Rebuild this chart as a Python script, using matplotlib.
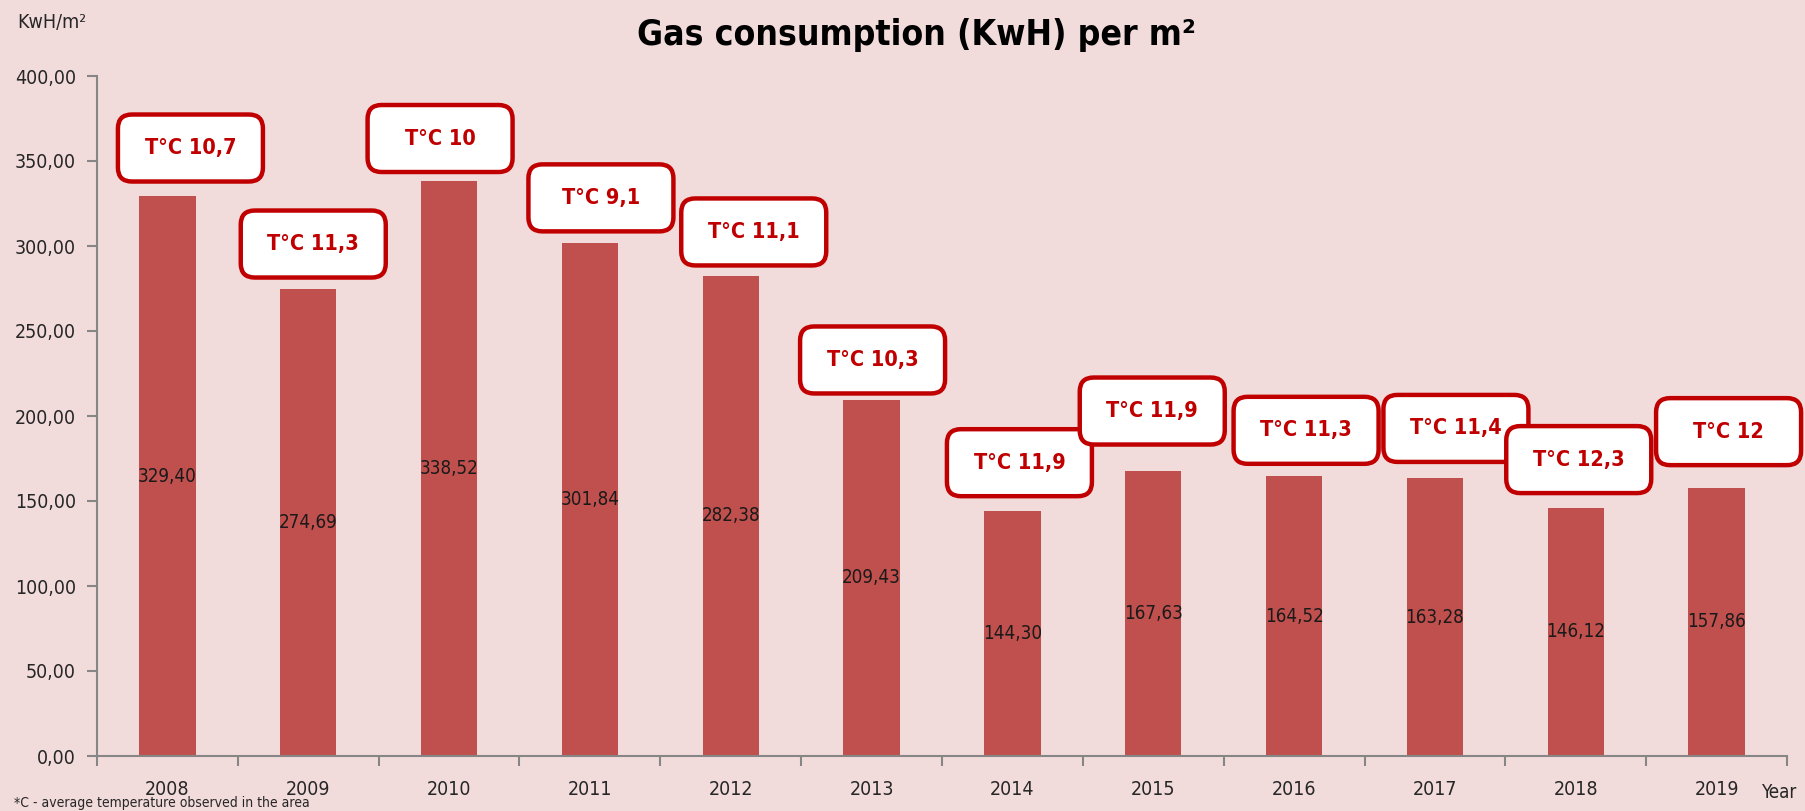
import matplotlib
matplotlib.use("Agg")
import matplotlib.pyplot as plt
from matplotlib.patches import FancyBboxPatch
from matplotlib.transforms import ScaledTranslation, IdentityTransform

# ---- data ----
years = ["2008", "2009", "2010", "2011", "2012", "2013",
         "2014", "2015", "2016", "2017", "2018", "2019"]
consumption = [329.40, 274.69, 338.52, 301.84, 282.38, 209.43,
               144.30, 167.63, 164.52, 163.28, 146.12, 157.86]
temperatures = ["10,7", "11,3", "10", "9,1", "11,1", "10,3",
                "11,9", "11,9", "11,3", "11,4", "12,3", "12"]
yticks = [0, 50, 100, 150, 200, 250, 300, 350, 400]

# ---- layout of temperature boxes (pixel offsets from bar top) ----
box_dx = [23, 5, -9, 11, 23, 1, 7, -1, 12, 21, 3, 12]
box_dy = [48, 45, 42, 45, 44, 40, 48, 60, 46, 50, 48, 56]

BG = "#F2DCDB"
BAR = "#C0504D"
RED = "#C00000"
FAM = ["DejaVu Sans"]
ST = "condensed"
TXT = "#262626"

W, H = 1806, 811
fig = plt.figure(figsize=(W / 100, H / 100), dpi=100, facecolor=BG)
ax = fig.add_axes([97 / W, 1 - 756 / H, (1787 - 97) / W, (756 - 76) / H])
ax.set_facecolor(BG)

x = list(range(len(years)))
ax.bar(x, consumption, width=0.4, color=BAR, zorder=2)

ax.set_xlim(-0.5, len(years) - 0.5)
ax.set_ylim(0, 400)

for s in ["top", "right"]:
    ax.spines[s].set_visible(False)
for s in ["left", "bottom"]:
    ax.spines[s].set_color("#868686")
    ax.spines[s].set_linewidth(1.5)

ax.set_yticks(yticks)
ax.set_yticklabels([f"{t:.2f}".replace(".", ",") for t in yticks],
                   family=FAM, stretch=ST, fontsize=14, color=TXT)
ax.tick_params(axis="y", length=7, width=1.5, color="#868686", pad=8)

ax.set_xticks(x)
ax.set_xticklabels(years, family=FAM, stretch=ST, fontsize=14, color=TXT)
ax.tick_params(axis="x", which="major", length=0, pad=17)
ax.set_xticks([i - 0.5 for i in range(len(years) + 1)], minor=True)
ax.tick_params(axis="x", which="minor", length=7, width=1.5, color="#868686")

# value labels inside bars
for i, v in enumerate(consumption):
    ax.text(i, v / 2, f"{v:.2f}".replace(".", ","), ha="center", va="center",
            family=FAM, stretch=ST, fontsize=13.5, color="#1a1a1a", zorder=3)

# temperature boxes
bw, bh = 145, 67
for i, (v, t) in enumerate(zip(consumption, temperatures)):
    tr = IdentityTransform() + ScaledTranslation(i, v, ax.transData)
    patch = FancyBboxPatch((box_dx[i] - bw / 2, box_dy[i] - bh / 2), bw, bh,
                           boxstyle="round,pad=0,rounding_size=14",
                           transform=tr, fc="white", ec=RED, lw=3.2,
                           zorder=4, clip_on=False)
    ax.add_patch(patch)
    ax.text(box_dx[i], box_dy[i], f"T°C {t}", transform=tr,
            ha="center", va="center", family=FAM, stretch=ST,
            fontweight="bold", fontsize=15.5, color=RED, zorder=5,
            clip_on=False)

# titles and labels
fig.text(916 / W, 1 - 45 / H, "Gas consumption (KwH) per m²", ha="center",
         va="baseline", family=FAM, stretch=ST, fontweight="bold",
         fontsize=25.5, color="black")
fig.text(17 / W, 1 - 22 / H, "KwH/m²", ha="left", va="center",
         family=FAM, stretch=ST, fontsize=14, color=TXT)
fig.text(1762 / W, 1 - 792 / H, "Year", ha="left", va="center",
         family=FAM, stretch=ST, fontsize=13.5, color=TXT)
fig.text(14 / W, 1 - 810 / H, "*C - average temperature observed in the area",
         ha="left", va="bottom", family=FAM, stretch=ST, fontsize=10,
         color=TXT)

fig.savefig("out.png", dpi=100, facecolor=BG)
